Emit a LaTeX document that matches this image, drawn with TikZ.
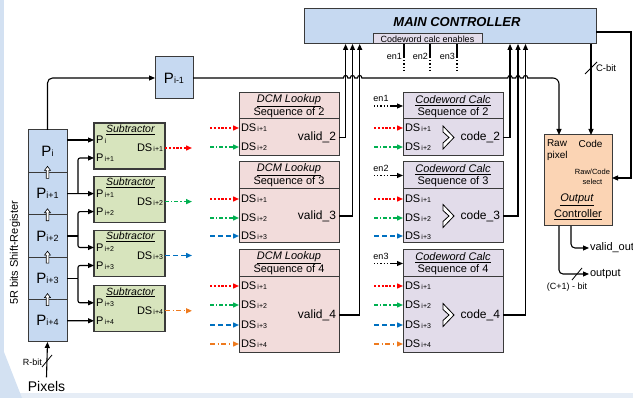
\documentclass[tikz,border=0pt]{standalone}
\usepackage{fontspec}
\setmainfont{Liberation Sans}
\usetikzlibrary{arrows.meta,calc}
\definecolor{regblue}{HTML}{C6D9F1}
\definecolor{subgreen}{HTML}{D7E4BD}
\definecolor{dcmpink}{HTML}{F2DCDB}
\definecolor{cwlav}{HTML}{E2DCEA}
\definecolor{outpeach}{HTML}{FBD4B4}
\definecolor{edgegray}{HTML}{3A3A3A}
\definecolor{lred}{HTML}{FF0000}
\definecolor{lgreen}{HTML}{00B050}
\definecolor{lblue}{HTML}{0070C0}
\definecolor{lorange}{HTML}{EE7A1E}
\definecolor{bgblue}{HTML}{D3E1F2}
\definecolor{bglight}{HTML}{E6EDF6}
\newcommand{\myfs}[1]{\fontsize{#1}{#1}\selectfont}
\newcommand{\regP}[1]{{\myfs{15}P}{\myfs{9}#1}}
\newcommand{\subP}[1]{{\myfs{11}P}{\myfs{7}\,#1}}
\newcommand{\dsin}[1]{{\myfs{11}DS}{\myfs{7}\,#1}}
\newcommand{\ulit}[1]{\underline{\textit{#1}}}
\newcommand{\chevron}[1]{\draw[fill=white,draw=black,line width=0.8pt] ($(#1)+(0,-11.5)$) -- ++(11,11.5) -- ++(-11,11.5) -- ++(0,-6) -- ++(6,-5.5) -- ++(-6,-5.5) -- cycle;}
\tikzset{
  box/.style={draw=edgegray, line width=1pt, inner sep=0pt, outer sep=0pt, anchor=north west},
  lbl/.style={inner sep=0pt, outer sep=0pt},
  tip/.style={-{Triangle[length=6pt,width=5pt]}},
  arr/.style={tip, line width=1.1pt, black},
  wire/.style={line width=1.1pt, black},
  dsA/.style={tip, lred, line width=1.4pt, dash pattern=on 2.2pt off 1.6pt},
  dsB/.style={tip, lgreen, line width=1.4pt, dash pattern=on 4pt off 2pt on 1.4pt off 2pt},
  dsC/.style={tip, lblue, line width=1.4pt, dash pattern=on 5pt off 3pt},
  dsD/.style={tip, lorange, line width=1.4pt, dash pattern=on 5pt off 2.5pt on 1.4pt off 2.5pt},
  endot/.style={black, line width=1.1pt, dash pattern=on 1.2pt off 2pt},
  slashmark/.style={line width=0.8pt, black},
}
\begin{document}
\begin{tikzpicture}[x=1pt,y=-1pt]
\useasboundingbox (0,0) rectangle (633,398);
% background
\fill[bglight] (0,393) rectangle (633,398);
\fill[bgblue] (0,0) rectangle (4,398);
\fill[bgblue] (0,352) -- (4,352) -- (22,398) -- (0,398) -- cycle;

% main controller
\node[box, fill=regblue, minimum width=292pt, minimum height=35pt] (mc) at (304,9) {};
\node[lbl, font=\myfs{13}\bfseries\itshape] (mctitle) at (457,22) {MAIN CONTROLLER};
\node[box, fill=cwlav, minimum width=109pt, minimum height=10pt, font=\myfs{9}] (cce) at (373,34) {Codeword calc enables};
\foreach \n/\x in {1/404,2/430,3/457} {
  \coordinate (ent\n) at (\x,44);
  \coordinate (enm\n) at (\x,57);
  \coordinate (enb\n) at (\x,70);
  \draw[wire] (ent\n) -- (enm\n);
  \draw[endot] (enm\n) -- (enb\n);
  \node[lbl, anchor=east, font=\myfs{9}] (enl\n) at (\x-2,56) {en\n};
}
\coordinate (mcin1) at ($(mc.south west)+(41.6,0)$);
\coordinate (mcin2) at ($(mc.south west)+(48.5,0)$);
\coordinate (mcin3) at ($(mc.south west)+(55.7,0)$);
\coordinate (mcin4) at ($(mc.south west)+(206,0)$);
\coordinate (mcin5) at ($(mc.south west)+(214,0)$);
\coordinate (mcin6) at ($(mc.south west)+(221.5,0)$);

% P i-1
\node[box, fill=regblue, minimum width=38pt, minimum height=42pt] (pim) at (155,57) {\regP{i-1}};

% shift register
\foreach \k/\s in {0/i,1/i+1,2/i+2,3/i+3,4/i+4} {
  \node[box, fill=regblue, minimum width=39pt, minimum height=42.4pt] (reg\k) at (28,130+42.4*\k) {\regP{\s}};
}
\foreach \k in {1,2,3,4} {
  \path (reg\k.north) coordinate (hv\k);
  \draw[fill=white, line width=0.6pt] ($(hv\k)+(-1.3,6)$) -- ++(0,-8) -- ++(-1.7,0) -- ++(3,-4) -- ++(3,4) -- ++(-1.7,0) -- ++(0,8) -- cycle;
}
\node[lbl, rotate=90, font=\myfs{11}] (reglabel) at (15,253) {5R bits Shift-Register};
\node[font=\myfs{14}] (pix) at (46.5,386) {Pixels};
\draw[arr] (pix.north) -- (reg4.south);
\draw[slashmark] (42,367) -- (52,355);
\node[lbl, anchor=east, font=\myfs{9}] (rbit) at (42,362) {R-bit};

% subtractors
\foreach \k/\t/\a/\b/\d in {1/123/i/i+1/i+1, 2/176.6/i+1/i+2/i+2, 3/230.5/i+2/i+3/i+3, 4/285.8/i+3/i+4/i+4} {
  \node[box, fill=subgreen, line width=1.3pt, minimum width=71pt, minimum height=46pt] (sub\k) at (94,\t) {};
  \node[lbl, font=\myfs{10.5}] at ($(sub\k.north)+(1,6.5)$) {\ulit{Subtractor}};
  \coordinate (sub\k-a) at ($(sub\k.north west)+(0,17)$);
  \coordinate (sub\k-b) at ($(sub\k.north west)+(0,35)$);
  \coordinate (sub\k-o) at ($(sub\k.north east)+(0,25)$);
  \node[lbl, anchor=west] at ($(sub\k-a)+(2,0)$) {\subP{\a}};
  \node[lbl, anchor=west] at ($(sub\k-b)+(2,0)$) {\subP{\b}};
  \node[lbl, anchor=east] at ($(sub\k-o)+(-2,0)$) {\dsin{\d}};
}
\foreach \k/\st in {1/dsA,2/dsB,3/dsC,4/dsD} {
  \coordinate (so\k) at ($(sub\k-o)+(27,0)$);
  \draw[\st] (sub\k-o) -- (so\k);
}
% register to subtractors
\coordinate (r0o) at ($(reg0.north east)+(0,10)$);
\draw[arr] (r0o) -- (sub1-a);
\draw[arr] (reg1.east) -- (sub2-a);
\coordinate (br1) at ($(reg1.east)+(11,0)$);
\draw[arr, rounded corners=2pt] (br1) |- (sub1-b);
\draw[wire] (reg2.east) -- ++(11,0) coordinate (br2);
\draw[arr, rounded corners=2pt] (br2) |- (sub2-b);
\draw[arr, rounded corners=2pt] (br2) |- (sub3-a);
\draw[wire] (reg3.east) -- ++(11,0) coordinate (br3);
\draw[arr, rounded corners=2pt] (br3) |- (sub3-b);
\draw[arr, rounded corners=2pt] (br3) |- (sub4-a);
\draw[arr] (reg4.east) -- (sub4-b);
\draw[arr, rounded corners=5pt] (reg0.north) |- (pim.west);

% DCM lookup and codeword calc boxes
\foreach \r/\t/\hh/\bh in {2/93/26/37, 3/162/27/54, 4/250/27/76} {
  \node[box, fill=dcmpink, minimum width=100pt, minimum height=\hh pt] (dh\r) at (239,\t) {};
  \node[box, fill=dcmpink, minimum width=100pt, minimum height=\bh pt] (db\r) at (239,\t+\hh) {};
  \node[lbl, font=\myfs{11}] at ($(dh\r.north)+(0,7.5)$) {\ulit{DCM Lookup}};
  \node[lbl, font=\myfs{11}] at ($(dh\r.north)+(0,19.5)$) {Sequence of \r};
  \node[lbl, anchor=east, font=\myfs{12}] at ($(db\r.east)+(-3,0)$) {valid\_\r};
  \node[box, fill=cwlav, minimum width=100pt, minimum height=\hh pt] (ch\r) at (403,\t) {};
  \node[box, fill=cwlav, minimum width=100pt, minimum height=\bh pt] (cb\r) at (403,\t+\hh) {};
  \node[lbl, font=\myfs{11}] at ($(ch\r.north)+(0,7.5)$) {\ulit{Codeword Calc}};
  \node[lbl, font=\myfs{11}] at ($(ch\r.north)+(0,19.5)$) {Sequence of \r};
  \node[lbl, anchor=east, font=\myfs{12}] at ($(cb\r.east)+(-3,0)$) {code\_\r};
  \path (cb\r.west) ++(40,0) coordinate (chv\r);
  \chevron{chv\r}
}
\foreach \bx/\x/\y/\st/\s in {db2/210/128/dsA/i+1, db2/210/147/dsB/i+2, db3/210/199/dsA/i+1, db3/210/218/dsB/i+2, db3/210/236/dsC/i+3, db4/210/286/dsA/i+1, db4/210/305/dsB/i+2, db4/210/325/dsC/i+3, db4/210/344/dsD/i+4,
  cb2/374/128/dsA/i+1, cb2/374/147/dsB/i+2, cb3/374/199/dsA/i+1, cb3/374/218/dsB/i+2, cb3/374/236/dsC/i+3, cb4/374/286/dsA/i+1, cb4/374/305/dsB/i+2, cb4/374/325/dsC/i+3, cb4/374/344/dsD/i+4} {
  \coordinate (src-\bx-\y) at (\x,\y);
  \draw[\st] (src-\bx-\y) -- (\bx.west |- src-\bx-\y);
  \node[lbl, anchor=west] at ($(\bx.west |- src-\bx-\y)+(2,0)$) {\dsin{\s}};
}
% enables into codeword calc
\foreach \r/\n in {2/1,3/2,4/3} {
  \coordinate (ens\n) at ($(ch\r.west)+(-29,0)$);
  \coordinate (enx\n) at ($(ch\r.west)+(-13,0)$);
  \draw[endot] (ens\n) -- (enx\n);
  \draw[arr] (enx\n) -- (ch\r.west);
  \node[lbl, font=\myfs{9}] at ($(ch\r.west)+(-22,-7.5)$) {en\n};
}
% to main controller
\draw[arr] (db2.east) -| (mcin1);
\draw[arr] (db3.east) -| (mcin2);
\draw[arr] (db4.east) -| (mcin3);
\draw[arr] (cb2.east) -| (mcin4);
\draw[arr] (cb3.east) -| (mcin5);
\draw[arr] (cb4.east) -| (mcin6);

% output controller
\node[box, fill=outpeach, minimum width=68pt, minimum height=91pt] (oc) at (544,135) {};
\node[lbl, anchor=west, font=\myfs{10}] at (547,143.5) {Raw};
\node[lbl, anchor=west, font=\myfs{10}] at (547,155.5) {pixel};
\node[lbl, font=\myfs{10}] at (590.5,143.5) {Code};
\node[lbl, font=\myfs{7.5}] at (592.5,171.5) {Raw/Code};
\node[lbl, font=\myfs{7.5}] at (592.5,182) {select};
\node[lbl, font=\myfs{11}] at (577,200) {\ulit{Output}};
\node[lbl, font=\myfs{11}] at (578,215) {\underline{Controller}};
\coordinate (ocraw) at ($(oc.north west)+(15,0)$);
\coordinate (occode) at ($(oc.north west)+(47,0)$);
\coordinate (ocsel) at ($(oc.north east)+(0,43)$);
\coordinate (ocv) at ($(oc.south west)+(27,0)$);
\coordinate (oco) at ($(oc.south west)+(15,0)$);

% P i-1 to raw pixel, with hops
\draw[wire] (pim.east) -- (343.4,78) .. controls (343.4,74.6) and (347.8,74.6) .. (347.8,78)
  -- (350.3,78) .. controls (350.3,74.6) and (354.7,74.6) .. (354.7,78)
  -- (357.5,78) .. controls (357.5,74.6) and (361.9,74.6) .. (361.9,78)
  -- (507.8,78) .. controls (507.8,74.6) and (512.2,74.6) .. (512.2,78)
  -- (515.8,78) .. controls (515.8,74.6) and (520.2,74.6) .. (520.2,78)
  -- (523.3,78) .. controls (523.3,74.6) and (527.7,74.6) .. (527.7,78)
  -- (551,78) coordinate (pcorner);
\draw[arr, rounded corners=6pt] (pcorner) -| (ocraw);

% select from main controller
\coordinate (mcr) at ($(mc.north east)+(0,23)$);
\draw[arr] (mcr) -- (631,32) |- (ocsel);
% C-bit
\draw[arr] (mc.south -| occode) -- (occode);
\draw[slashmark] ($(occode)+(-6,-61)$) -- ($(occode)+(6,-73)$);
\node[lbl, anchor=west, font=\myfs{9.5}] at ($(occode)+(5,-67)$) {C-bit};

% outputs
\coordinate (vo) at (589,248);
\coordinate (oo) at (589,274);
\draw[arr, rounded corners=4pt] (ocv) |- (vo);
\draw[arr, rounded corners=4pt] (oco) |- (oo);
\node[lbl, anchor=west, font=\myfs{11}] at ($(vo)+(1,0)$) {valid\_out};
\node[lbl, anchor=west, font=\myfs{11}] at ($(oo)+(1,0)$) {output};
\draw[slashmark] (572,280) -- (582,268);
\node[lbl, font=\myfs{9}] at (567,287) {(C+1) - bit};
\end{tikzpicture}
\end{document}
